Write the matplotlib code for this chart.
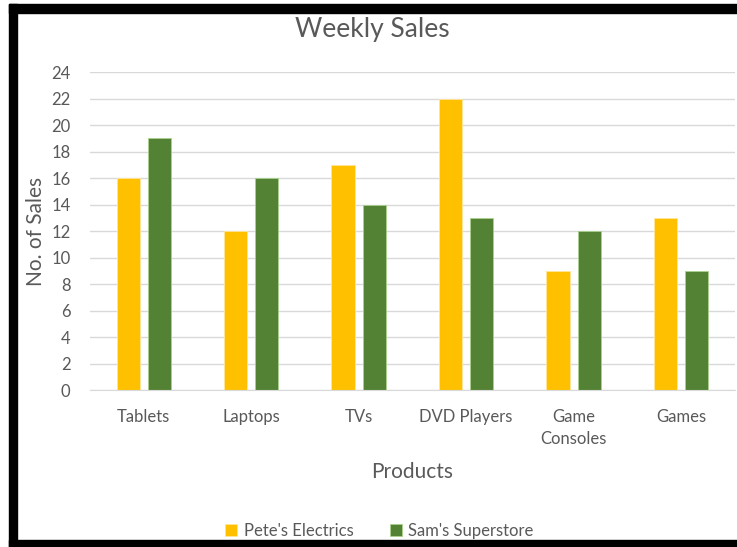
import numpy as np
import matplotlib.pyplot as plt
from matplotlib.patches import Rectangle

products = ['Tablets', 'Laptops', 'TVs', 'DVD Players', 'Game\nConsoles', 'Games']
petes = [16, 12, 17, 22, 9, 13]
sams = [19, 16, 14, 13, 12, 9]
series_names = ["Pete's Electrics", "Sam's Superstore"]

plt.rcParams['font.family'] = ['Lato', 'DejaVu Sans']
grey = '#595959'

fig = plt.figure(figsize=(7.37, 5.47), dpi=100)
ax = fig.add_axes([0.122, 0.287, 0.875, 0.581])

x = np.arange(len(products))
w = 0.215
ax.bar(x - 0.145, petes, w, color='#FFC000', edgecolor='#FFE699', linewidth=0.6, label=series_names[0], zorder=2)
ax.bar(x + 0.145, sams, w, color='#548235', edgecolor='#A9D18E', linewidth=0.6, label=series_names[1], zorder=2)

ax.set_xlim(-0.5, len(products) - 0.5)
ax.set_ylim(0, 24)
ax.set_yticks(range(0, 25, 2))
ax.set_xticks(x)
ax.set_xticklabels(products, fontsize=12, color=grey, linespacing=1.4)
ax.tick_params(axis='y', labelsize=12, labelcolor=grey, length=0, pad=14)
ax.tick_params(axis='x', length=0, pad=14)
ax.grid(axis='y', color='#D9D9D9', linewidth=1, zorder=0)
for s in ['top', 'right', 'left']:
    ax.spines[s].set_visible(False)
ax.spines['bottom'].set_color('#D9D9D9')

fig.text(0.505, 1 - 30 / 547, 'Weekly Sales', fontsize=19, color=grey, ha='center', va='center')
ax.set_xlabel('Products', fontsize=15, color=grey, labelpad=11)
ax.set_ylabel('No. of Sales', fontsize=15, color=grey, labelpad=4)

fig.legend(loc='center', bbox_to_anchor=(0.515, 1 - 531 / 547), ncol=2, frameon=False,
           fontsize=12, labelcolor=grey, handlelength=0.7, handleheight=0.7,
           handletextpad=0.4, columnspacing=2.2)

# black frame around the chart
fig.patches.append(Rectangle((9 / 737, 0), 8 / 737, 1 - 4 / 547,
                             transform=fig.transFigure, color='black', zorder=10))
fig.patches.append(Rectangle((9 / 737, 1 - 13 / 547), 1 - 9 / 737, 9 / 547,
                             transform=fig.transFigure, color='black', zorder=10))
fig.patches.append(Rectangle((9 / 737, 0), 1 - 9 / 737, 7 / 547,
                             transform=fig.transFigure, color='black', zorder=10))

fig.savefig('out.png', dpi=100)
